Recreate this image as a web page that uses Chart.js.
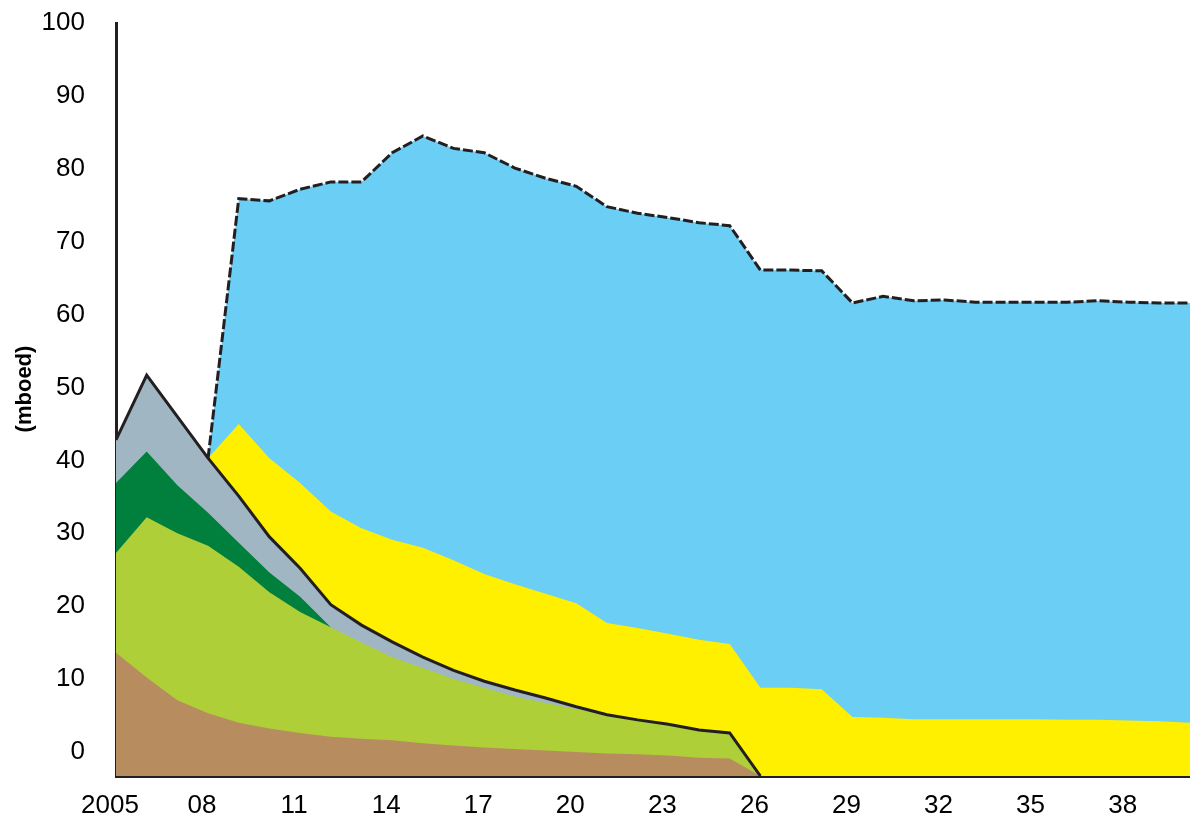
<!DOCTYPE html>
<html>
<head>
<meta charset="utf-8">
<script src="https://cdn.jsdelivr.net/npm/chart.js@4/dist/chart.umd.min.js"></script>
<style>
    body { margin: 0; background: #fff; }
    #grafico { display: block; }
</style>
</head>
<body>
<canvas id="grafico" width="1190" height="823"></canvas>
<script>
const anios = [2005, 2006, 2007, 2008, 2009, 2010, 2011, 2012, 2013, 2014, 2015, 2016,
    2017, 2018, 2019, 2020, 2021, 2022, 2023, 2024, 2025, 2026, 2027, 2028,
    2029, 2030, 2031, 2032, 2033, 2034, 2035, 2036, 2037, 2038, 2039, 2040];

// tops of each layer (mboed)
const capaMarron = [13.6, 10.2, 7.1, 5.3, 4.0, 3.2, 2.6, 2.1, 1.8, 1.6, 1.2, 0.9,
    0.6, 0.4, 0.2, 0.0, -0.2, -0.3, -0.5, -0.8, -0.9, -3.3, null, null,
    null, null, null, null, null, null, null, null, null, null, null, null];
const capaVerdeClaro = [27.3, 32.2, 30.0, 28.3, 25.4, 21.9, 19.2, 17.1, 15.0, 13.0, 11.5, 10.0,
    8.8, 7.6, 6.7, 5.9, 5.1, 4.4, 3.8, 3.0, 2.6, -3.3, null, null,
    null, null, null, null, null, null, null, null, null, null, null, null];
const capaVerdeOscuro = [36.9, 41.2, 36.6, 32.8, 28.7, 24.6, 21.3, 17.1, null, null, null, null,
    null, null, null, null, null, null, null, null, null, null, null, null,
    null, null, null, null, null, null, null, null, null, null, null, null];
const totalExistente = [42.8, 51.7, 46.0, 40.3, 35.1, 29.5, 25.2, 20.2, 17.4, 15.1, 13.0, 11.2,
    9.7, 8.5, 7.4, 6.2, 5.1, 4.4, 3.8, 3.0, 2.6, -3.3, null, null,
    null, null, null, null, null, null, null, null, null, null, null, null];
const capaAmarilla = [null, null, null, 40.3, 45.0, 40.3, 36.9, 33.0, 30.7, 29.1, 28.0, 26.3,
    24.4, 23.0, 21.7, 20.4, 17.7, 17.0, 16.2, 15.4, 14.8, 8.8, 8.8, 8.6,
    4.8, 4.7, 4.5, 4.5, 4.5, 4.5, 4.5, 4.4, 4.4, 4.3, 4.2, 4.0];
const totalDemanda = [null, null, null, 40.3, 75.9, 75.6, 77.2, 78.2, 78.2, 82.2, 84.5, 82.8,
    82.2, 80.1, 78.7, 77.6, 74.8, 73.9, 73.3, 72.6, 72.2, 66.1, 66.1, 66.0,
    61.6, 62.5, 61.9, 62.0, 61.7, 61.7, 61.7, 61.7, 61.9, 61.7, 61.6, 61.6];

const ticksX = [2005, 2008, 2011, 2014, 2017, 2020, 2023, 2026, 2029, 2032, 2035, 2038];
const etiquetasX = ['2005', '08', '11', '14', '17', '20', '23', '26', '29', '32', '35', '38'];
const ticksY = [0, 10, 20, 30, 40, 50, 60, 70, 80, 90, 100];

const FUENTE = "'Liberation Sans Narrow', 'Liberation Sans', Arial, sans-serif";
const NEGRO = '#231f20';

class GraficoDemanda {
    constructor() {
        this.lienzo = document.querySelector('#grafico');
        this.dibujar();
    }

    puntos(valores) {
        return anios.map((anio, i) => ({x: anio, y: valores[i]}));
    }

    capa(valores, color) {
        return {
            data: this.puntos(valores),
            backgroundColor: color,
            borderWidth: 0,
            fill: 'start',
            pointRadius: 0
        };
    }

    dibujar() {
        const tituloEje = {
            id: 'tituloEje',
            afterDraw(chart) {
                const ctx = chart.ctx;
                ctx.save();
                ctx.translate(25, 389);
                ctx.rotate(-Math.PI / 2);
                ctx.font = 'bold 22px ' + FUENTE;
                ctx.fillStyle = '#000';
                ctx.textAlign = 'center';
                ctx.textBaseline = 'middle';
                ctx.fillText('(mboed)', 0, 0);
                ctx.restore();
            }
        };

        const datasets = [
            {
                data: this.puntos(totalDemanda),
                borderColor: NEGRO,
                borderWidth: 3,
                borderDash: [10, 3],
                fill: false,
                pointRadius: 0
            },
            {
                data: this.puntos(totalExistente),
                borderColor: NEGRO,
                borderWidth: 3,
                fill: false,
                pointRadius: 0
            },
            this.capa(capaMarron, '#b78d5f'),
            this.capa(capaVerdeClaro, '#aecf38'),
            this.capa(capaVerdeOscuro, '#007f3d'),
            this.capa(totalExistente, '#a0b7c3'),
            this.capa(capaAmarilla, '#fff000'),
            this.capa(totalDemanda, '#6bcef5')
        ];

        new Chart(this.lienzo, {
            type: 'line',
            data: {datasets},
            plugins: [tituloEje],
            options: {
                responsive: false,
                animation: false,
                devicePixelRatio: 1,
                layout: {padding: {top: 23, right: 0, left: 0, bottom: 0}},
                elements: {line: {tension: 0}},
                plugins: {legend: {display: false}, tooltip: {enabled: false}},
                scales: {
                    x: {
                        type: 'linear',
                        min: 2005,
                        max: 2040,
                        grid: {display: false},
                        border: {color: NEGRO, width: 3},
                        afterBuildTicks: escala => {
                            escala.ticks = ticksX.map(v => ({value: v}));
                        },
                        afterFit: escala => {
                            escala.height = 47;
                            escala.paddingLeft = 0;
                            escala.paddingRight = 0;
                        },
                        ticks: {
                            autoSkip: false,
                            maxRotation: 0,
                            padding: 6,
                            labelOffset: -6,
                            color: '#000',
                            font: {family: FUENTE, size: 26}
                        ,
                            callback: valor => etiquetasX[ticksX.indexOf(valor)]
                        }
                    },
                    y: {
                        min: -3.3,
                        max: 100,
                        grid: {display: false},
                        border: {color: NEGRO, width: 3},
                        afterBuildTicks: escala => {
                            escala.ticks = ticksY.map(v => ({value: v}));
                        },
                        afterFit: escala => {
                            escala.width = 116;
                            escala.paddingTop = 0;
                            escala.paddingBottom = 0;
                        },
                        ticks: {
                            padding: 23,
                            color: '#000',
                            font: {family: FUENTE, size: 26}
                        }
                    }
                }
            }
        });
    }
}

window.addEventListener('load', () => {
    new GraficoDemanda();
});
</script>
</body>
</html>
